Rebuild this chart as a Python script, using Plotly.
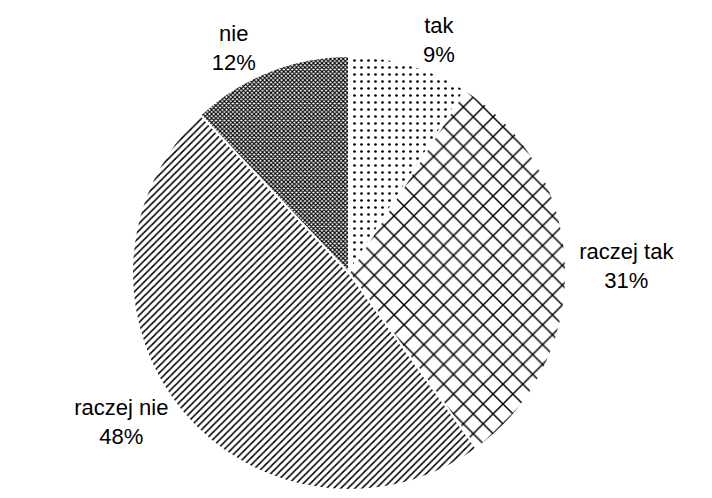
import plotly.graph_objects as go

labels = ["tak", "raczej tak", "raczej nie", "nie"]
values = [9, 31, 48, 12]
shapes = [".", "x", "/", "x"]
sizes = [7, 14, 5, 3]
solidity = [0.12, 0.2, 0.3, 0.6]

fig = go.Figure(go.Pie(
    labels=labels,
    values=values,
    sort=False,
    direction="clockwise",
    rotation=0,
    texttemplate="%{label}<br>%{percent:.0%}",
    textposition="outside",
    textfont=dict(family="Liberation Sans, Arial", size=22, color="black"),
    marker=dict(
        colors=["white"] * 4,
        line=dict(color="white", width=2),
        pattern=dict(shape=shapes, size=sizes, solidity=solidity,
                     fgcolor="black", fgopacity=1, bgcolor="white", fillmode="overlay"),
    ),
    showlegend=False,
    hoverinfo="label+percent",
))
fig.update_layout(
    width=712, height=498,
    margin=dict(l=122, r=152, t=44, b=16),
    paper_bgcolor="white",
    plot_bgcolor="white",
)
fig.write_html("out.html")
